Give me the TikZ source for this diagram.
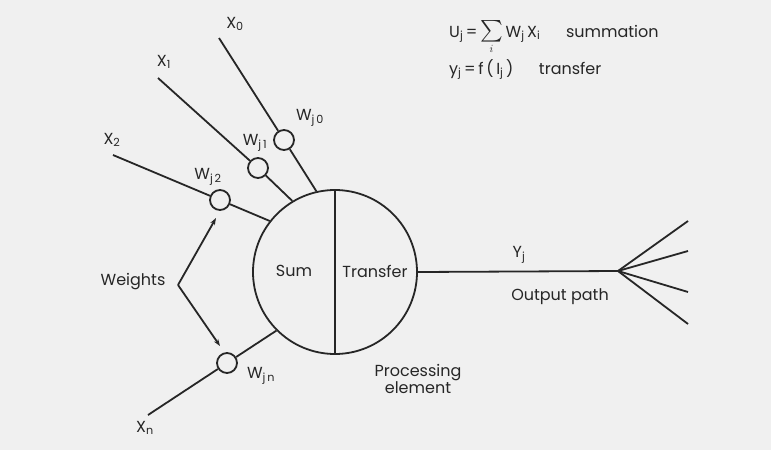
\documentclass[tikz,border=0pt]{standalone}
\usepackage{amsmath}
\usepackage{graphicx}
\usepackage{fontspec}
\setmainfont{Poppins}
\usetikzlibrary{arrows.meta}
\begin{document}
\begin{tikzpicture}[x=1pt,y=-1pt,
  ln/.style={draw=black!85, line width=1.8pt},
  wc/.style={circle, draw=black!85, line width=1.8pt, minimum size=20pt, inner sep=0pt},
  lbl/.style={font=\fontsize{16}{17}\selectfont, text=black!85, inner sep=1pt},
  sublbl/.style={font=\fontsize{16}{18}\selectfont, text=black!85, inner sep=1pt}]
\fill[black!6] (0,0) rectangle (771,450);
\useasboundingbox (0,0) rectangle (771,450);
% processing element
\node[circle, draw=black!85, line width=1.8pt, minimum size=164pt, inner sep=0pt] (pe) at (335,272) {};
\draw[ln] (pe.north) -- (pe.south);
\node[lbl] (sum) at (294,271) {Sum};
\node[lbl] (tr) at (375,271) {Transfer};
% weight circles
\node[wc] (w0) at (284,140) {};
\node[wc] (w1) at (258,168) {};
\node[wc] (w2) at (220,200) {};
\node[wc] (wn) at (227,363) {};
% input ends
\coordinate (x0e) at (219,38);
\coordinate (x1e) at (158,78);
\coordinate (x2e) at (113,155);
\coordinate (xne) at (148,415);
\draw[ln] (x0e) -- (w0); \draw[ln] (w0) -- (pe.103);
\draw[ln] (x1e) -- (w1); \draw[ln] (w1) -- (pe.121);
\draw[ln] (x2e) -- (w2); \draw[ln] (w2) -- (pe.142);
\draw[ln] (xne) -- (wn); \draw[ln] (wn) -- (pe.225);
% input labels
\node[sublbl] (lx0) at (235,24) {X\textsubscript{0}};
\node[sublbl] (lx1) at (164,62) {X\textsubscript{1}};
\node[sublbl] (lx2) at (112,140) {X\textsubscript{2}};
\node[sublbl] (lxn) at (145,428) {X\textsubscript{n}};
% weight labels
\node[lbl] (lw0) at (310,118) {W\textsubscript{j\,0}};
\node[lbl] (lw1) at (255,143) {W\textsubscript{j\,1}};
\node[lbl] (lw2) at (208,177) {W\textsubscript{j\,2}};
\node[lbl] (lwn) at (261,376) {W\textsubscript{j\,n}};
% weights arrows
\node[lbl] (wts) at (133,282) {Weights};
\coordinate (wv) at (178,285);
\draw[ln, -{Stealth[length=7pt,width=5pt]}] (wv) -- (216,218);
\draw[ln, -{Stealth[length=7pt,width=5pt]}] (wv) -- (220,346);
% processing element label
\node[lbl, align=center] (pel) at (418,379) {Processing\\element};
% output
\coordinate (fan) at (618,271);
\draw[ln] (pe.east) -- (fan);
\coordinate (o1) at (688,221);
\coordinate (o2) at (688,251);
\coordinate (o3) at (688,292);
\coordinate (o4) at (688,324);
\draw[ln] (fan) -- (o1); \draw[ln] (fan) -- (o2);
\draw[ln] (fan) -- (o3); \draw[ln] (fan) -- (o4);
\node[lbl] (yj) at (519,255) {Y\textsubscript{j}};
\node[lbl] (op) at (560,297) {Output path};
% formulas
\node[lbl, anchor=base west] (f1) at (448,37) {U\textsubscript{j}\,=\,$\underset{i}{\scalebox{1.25}{$\textstyle\sum$}}$\,W\textsubscript{j}\,X\textsubscript{i}\hspace{1.6em}summation};
\node[lbl, anchor=base west] (f2) at (448,74) {y\textsubscript{j}\,=\,f\,(\,I\textsubscript{j}\,)\hspace{1.6em}transfer};
\end{tikzpicture}
\end{document}
